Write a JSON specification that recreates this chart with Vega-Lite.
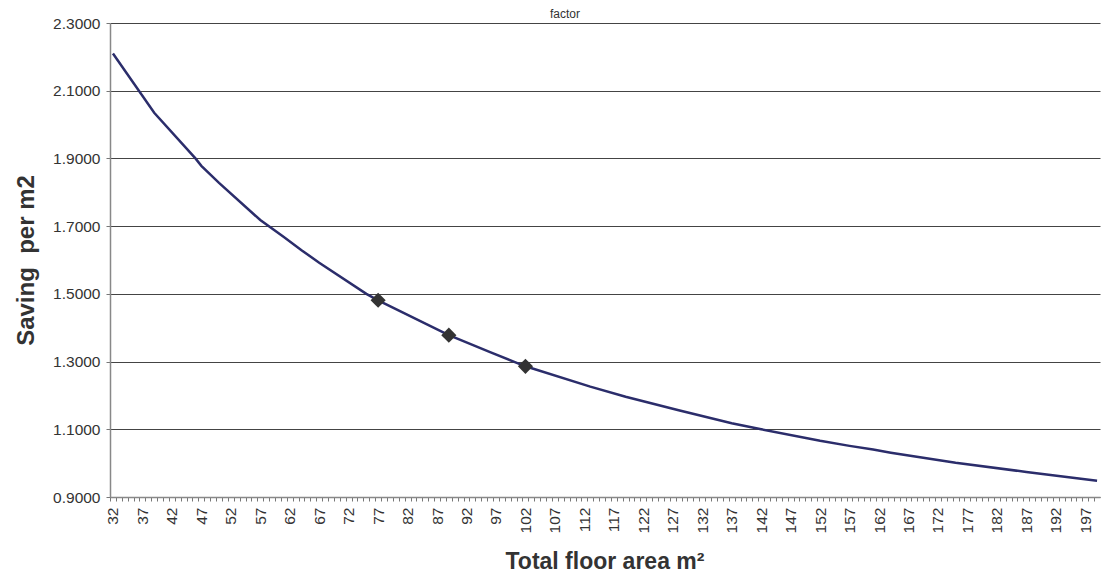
{
  "$schema": "https://vega.github.io/schema/vega-lite/v6.json",
  "width": 990,
  "height": 474,
  "autosize": {"type": "none"},
  "padding": {"left": 110, "top": 23, "right": 2, "bottom": 77},
  "background": "white",
  "title": {"text": "factor", "anchor": "start", "frame": "group", "dx": 440, "dy": 9, "fontSize": 12, "fontWeight": "normal", "color": "#333333", "font": "Liberation Sans", "offset": 4},
  "config": {
    "view": {"stroke": null},
    "font": "Liberation Sans"
  },
  "data": {"values": [
    {"area": 32, "saving": 2.210, "marker": false},
    {"area": 39, "saving": 2.035, "marker": false},
    {"area": 46, "saving": 1.900, "marker": false},
    {"area": 47, "saving": 1.878, "marker": false},
    {"area": 50, "saving": 1.828, "marker": false},
    {"area": 57, "saving": 1.718, "marker": false},
    {"area": 61, "saving": 1.668, "marker": false},
    {"area": 64, "saving": 1.629, "marker": false},
    {"area": 67, "saving": 1.592, "marker": false},
    {"area": 75, "saving": 1.500, "marker": false},
    {"area": 77, "saving": 1.481, "marker": true},
    {"area": 89, "saving": 1.378, "marker": true},
    {"area": 96, "saving": 1.328, "marker": false},
    {"area": 100, "saving": 1.300, "marker": false},
    {"area": 102, "saving": 1.286, "marker": true},
    {"area": 113, "saving": 1.226, "marker": false},
    {"area": 119, "saving": 1.196, "marker": false},
    {"area": 128, "saving": 1.156, "marker": false},
    {"area": 137, "saving": 1.118, "marker": false},
    {"area": 142, "saving": 1.100, "marker": false},
    {"area": 152, "saving": 1.066, "marker": false},
    {"area": 157, "saving": 1.051, "marker": false},
    {"area": 161, "saving": 1.040, "marker": false},
    {"area": 164, "saving": 1.031, "marker": false},
    {"area": 175, "saving": 1.001, "marker": false},
    {"area": 187, "saving": 0.974, "marker": false},
    {"area": 199, "saving": 0.948, "marker": false}
  ]},
  "encoding": {
    "x": {
      "field": "area", "type": "quantitative",
      "scale": {"domain": [31.5, 199.5], "nice": false, "zero": false},
      "axis": {
        "title": "Total floor area m²",
        "titleFont": "Liberation Sans", "titleFontSize": 23, "titleFontWeight": "bold", "titleColor": "#333333",
        "titleAlign": "left", "titleX": 395, "titleY": 71, "titleBaseline": "alphabetic", "titleAnchor": null,
        "values": [32,33,34,35,36,37,38,39,40,41,42,43,44,45,46,47,48,49,50,51,52,53,54,55,56,57,58,59,60,61,62,63,64,65,66,67,68,69,70,71,72,73,74,75,76,77,78,79,80,81,82,83,84,85,86,87,88,89,90,91,92,93,94,95,96,97,98,99,100,101,102,103,104,105,106,107,108,109,110,111,112,113,114,115,116,117,118,119,120,121,122,123,124,125,126,127,128,129,130,131,132,133,134,135,136,137,138,139,140,141,142,143,144,145,146,147,148,149,150,151,152,153,154,155,156,157,158,159,160,161,162,163,164,165,166,167,168,169,170,171,172,173,174,175,176,177,178,179,180,181,182,183,184,185,186,187,188,189,190,191,192,193,194,195,196,197,198,199],
        "labelExpr": "(datum.value - 32) % 5 == 0 ? datum.value : ''",
        "labelAngle": 270,
        "labelFontSize": 15.5, "labelColor": "#333333", "labelFont": "Liberation Sans",
        "labelPadding": 6, "labelOverlap": false, "labelBound": false, "labelFlush": false,
        "tickOffset": -2.95, "labelOffset": 2.95,
        "tickSize": 4, "tickColor": "#777777", "tickWidth": 1,
        "domainColor": "#888888", "domainWidth": 1.5,
        "grid": false
      }
    },
    "y": {
      "field": "saving", "type": "quantitative",
      "scale": {"domain": [0.9, 2.3], "nice": false, "zero": false},
      "axis": {
        "title": "Saving\u00a0 per m2",
        "titleFont": "Liberation Sans", "titleFontSize": 24, "titleFontWeight": "bold", "titleColor": "#333333",
        "titleAngle": 270, "titleAlign": "center", "titleBaseline": "middle", "titleX": -84, "titleY": 237,
        "values": [0.9, 1.1, 1.3, 1.5, 1.7, 1.9, 2.1, 2.3],
        "format": ".4f",
        "labelFontSize": 15.5, "labelColor": "#333333", "labelFont": "Liberation Sans",
        "labelPadding": 6,
        "tickSize": 4, "tickColor": "#777777",
        "domainColor": "#888888", "domainWidth": 1.5,
        "grid": true, "gridColor": "#444444", "gridWidth": 1
      }
    }
  },
  "layer": [
    {"mark": {"type": "line", "color": "#2b2d6b", "strokeWidth": 2.5, "clip": false}},
    {"transform": [{"filter": "datum.marker"}],
     "mark": {"type": "point", "shape": "diamond", "filled": true, "color": "#333333", "size": 230, "opacity": 1}}
  ]
}
